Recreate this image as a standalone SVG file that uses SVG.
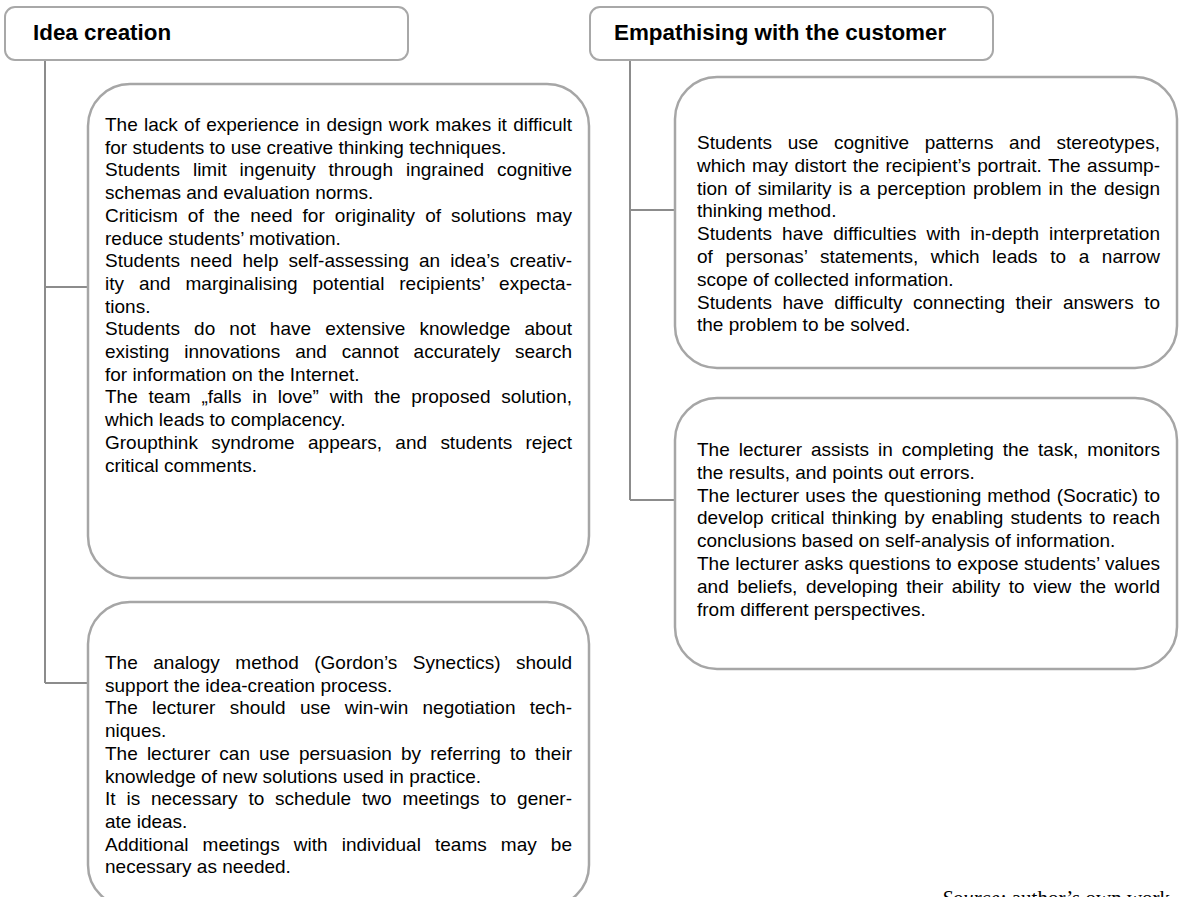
<svg xmlns="http://www.w3.org/2000/svg" width="1179" height="897" viewBox="0 0 1179 897">
<style>
.hdr{fill:#fff;stroke:#a8a8a8;stroke-width:2}
.box{fill:#fff;stroke:#a6a6a6;stroke-width:2.5}
.ht{font-family:"Liberation Sans",Arial,sans-serif;font-weight:bold;font-size:22.4px;fill:#000}
.t{font-family:"Liberation Sans",Arial,sans-serif;font-size:19px;fill:#000}
.con{fill:none;stroke:#8c8c8c;stroke-width:2}
.src{font-family:"Liberation Serif","Times New Roman",serif;font-size:21px;fill:#000}
</style>
<rect width="1179" height="897" fill="#fff"/>
<g id="connectors">
<path class="con" d="M45 60V683M45 287H88M45 683H88"/>
<path class="con" d="M630 60V500M630 210H675M630 500H675"/>
</g>
<g id="idea-creation">
<rect class="hdr" x="5" y="7" width="403" height="53" rx="10"/>
<text class="ht" x="33" y="40">Idea creation</text>
</g>
<g id="empathising">
<rect class="hdr" x="590" y="7" width="403" height="53" rx="10"/>
<text class="ht" x="614" y="40">Empathising with the customer</text>
</g>
<g id="idea-problems">
<rect class="box" x="88" y="84" width="501" height="494" rx="42"/>
<text class="t" x="105" y="131" word-spacing="0.97" textLength="467" lengthAdjust="spacing">The lack of experience in design work makes it difficult</text>
<text class="t" x="105" y="153.7">for students to use creative thinking techniques.</text>
<text class="t" x="105" y="176.4" word-spacing="7.65" textLength="467" lengthAdjust="spacing">Students limit ingenuity through ingrained cognitive</text>
<text class="t" x="105" y="199.1">schemas and evaluation norms.</text>
<text class="t" x="105" y="221.8" word-spacing="4.79" textLength="467" lengthAdjust="spacing">Criticism of the need for originality of solutions may</text>
<text class="t" x="105" y="244.5">reduce students’ motivation.</text>
<text class="t" x="105" y="267.2" word-spacing="4.79" textLength="467" lengthAdjust="spacing">Students need help self-assessing an idea’s creativ-</text>
<text class="t" x="105" y="289.9" word-spacing="9.56" textLength="467" lengthAdjust="spacing">ity and marginalising potential recipients’ expecta-</text>
<text class="t" x="105" y="312.6">tions.</text>
<text class="t" x="105" y="335.3" word-spacing="8.83" textLength="467" lengthAdjust="spacing">Students do not have extensive knowledge about</text>
<text class="t" x="105" y="358" word-spacing="9.55" textLength="467" lengthAdjust="spacing">existing innovations and cannot accurately search</text>
<text class="t" x="105" y="380.7">for information on the Internet.</text>
<text class="t" x="105" y="403.4" word-spacing="5.44" textLength="467" lengthAdjust="spacing">The team „falls in love” with the proposed solution,</text>
<text class="t" x="105" y="426.1">which leads to complacency.</text>
<text class="t" x="105" y="448.8" word-spacing="8.08" textLength="467" lengthAdjust="spacing">Groupthink syndrome appears, and students reject</text>
<text class="t" x="105" y="471.5">critical comments.</text>
</g>
<g id="idea-solutions">
<rect class="box" x="88" y="602" width="501" height="305" rx="42"/>
<text class="t" x="105" y="669" word-spacing="10.2" textLength="467" lengthAdjust="spacing">The analogy method (Gordon’s Synectics) should</text>
<text class="t" x="105" y="691.7">support the idea-creation process.</text>
<text class="t" x="105" y="714.4" word-spacing="9" textLength="467" lengthAdjust="spacing">The lecturer should use win-win negotiation tech-</text>
<text class="t" x="105" y="737.1">niques.</text>
<text class="t" x="105" y="759.8" word-spacing="3.86" textLength="467" lengthAdjust="spacing">The lecturer can use persuasion by referring to their</text>
<text class="t" x="105" y="782.5">knowledge of new solutions used in practice.</text>
<text class="t" x="105" y="805.2" word-spacing="5.57" textLength="467" lengthAdjust="spacing">It is necessary to schedule two meetings to gener-</text>
<text class="t" x="105" y="827.9">ate ideas.</text>
<text class="t" x="105" y="850.6" word-spacing="8.85" textLength="467" lengthAdjust="spacing">Additional meetings with individual teams may be</text>
<text class="t" x="105" y="873.3">necessary as needed.</text>
</g>
<g id="empathy-problems">
<rect class="box" x="675" y="77" width="502" height="291" rx="42"/>
<text class="t" x="697" y="149" word-spacing="10.4" textLength="463" lengthAdjust="spacing">Students use cognitive patterns and stereotypes,</text>
<text class="t" x="697" y="171.8" word-spacing="1.13" textLength="463" lengthAdjust="spacing">which may distort the recipient’s portrait. The assump-</text>
<text class="t" x="697" y="194.6" word-spacing="1.81" textLength="463" lengthAdjust="spacing">tion of similarity is a perception problem in the design</text>
<text class="t" x="697" y="217.4">thinking method.</text>
<text class="t" x="697" y="240.2" word-spacing="4.72" textLength="463" lengthAdjust="spacing">Students have difficulties with in-depth interpretation</text>
<text class="t" x="697" y="263" word-spacing="7.31" textLength="463" lengthAdjust="spacing">of personas’ statements, which leads to a narrow</text>
<text class="t" x="697" y="285.8">scope of collected information.</text>
<text class="t" x="697" y="308.6" word-spacing="5.18" textLength="463" lengthAdjust="spacing">Students have difficulty connecting their answers to</text>
<text class="t" x="697" y="331.4">the problem to be solved.</text>
</g>
<g id="empathy-solutions">
<rect class="box" x="675" y="398" width="502" height="271" rx="42"/>
<text class="t" x="697" y="456" word-spacing="3.69" textLength="463" lengthAdjust="spacing">The lecturer assists in completing the task, monitors</text>
<text class="t" x="697" y="478.8">the results, and points out errors.</text>
<text class="t" x="697" y="501.6" word-spacing="0.82" textLength="463" lengthAdjust="spacing">The lecturer uses the questioning method (Socratic) to</text>
<text class="t" x="697" y="524.4" word-spacing="1.87" textLength="463" lengthAdjust="spacing">develop critical thinking by enabling students to reach</text>
<text class="t" x="697" y="547.2">conclusions based on self-analysis of information.</text>
<text class="t" x="697" y="570" word-spacing="0.21" textLength="463" lengthAdjust="spacing">The lecturer asks questions to expose students’ values</text>
<text class="t" x="697" y="592.8" word-spacing="3.23" textLength="463" lengthAdjust="spacing">and beliefs, developing their ability to view the world</text>
<text class="t" x="697" y="615.6">from different perspectives.</text>
</g>
<text class="src" x="942" y="905"><tspan font-style="italic">Source:</tspan> author’s own work</text>
</svg>
